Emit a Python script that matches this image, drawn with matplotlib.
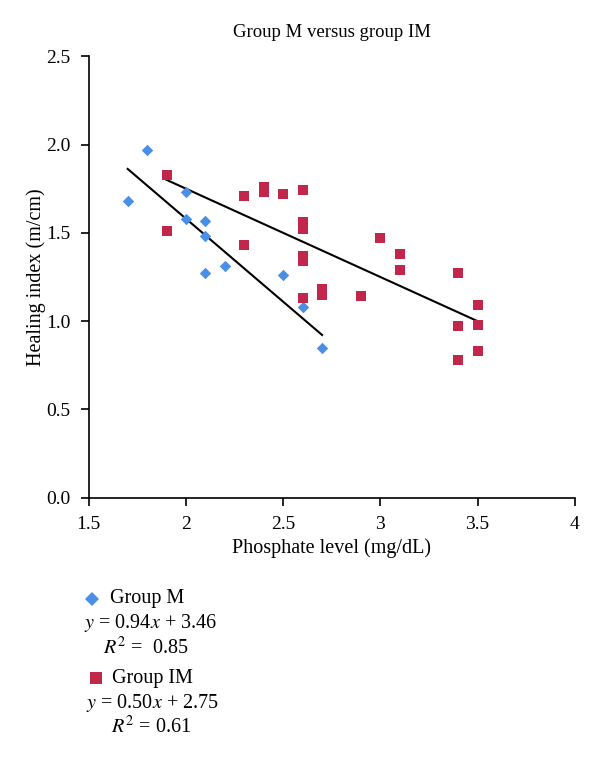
import matplotlib
matplotlib.use("Agg")
import matplotlib.pyplot as plt
import numpy as np

plt.rcParams['font.family'] = ['Liberation Serif', 'DejaVu Serif']
plt.rcParams['mathtext.fontset'] = 'stix'

# Group M (blue diamonds)
m_x = [1.7, 1.8, 2.0, 2.0, 2.1, 2.1, 2.1, 2.2, 2.5, 2.6, 2.7]
m_y = [1.68, 1.97, 1.73, 1.58, 1.57, 1.48, 1.27, 1.31, 1.26, 1.08, 0.85]

# Group IM (red squares)
im_x = [1.9, 1.9, 2.3, 2.3, 2.4, 2.4, 2.5, 2.6, 2.6, 2.6, 2.6, 2.6, 2.6,
        2.7, 2.7, 2.9, 3.0, 3.1, 3.1, 3.4, 3.4, 3.4, 3.5, 3.5, 3.5]
im_y = [1.83, 1.51, 1.71, 1.43, 1.76, 1.73, 1.72, 1.74, 1.56, 1.52, 1.37, 1.34, 1.13,
        1.18, 1.15, 1.14, 1.47, 1.38, 1.29, 1.27, 0.97, 0.78, 1.09, 0.98, 0.83]

# regression lines as printed in the legend: y = slope*x + intercept
m_fit = (-0.94, 3.46)
im_fit = (-0.50, 2.75)

blue = '#4A8FE7'
red = '#C1274A'

fig = plt.figure(figsize=(6, 7.6), dpi=100)
ax = fig.add_axes([0.148, 0.345, 0.81, 0.581])

ax.scatter(m_x, m_y, marker='D', s=34, color=blue, zorder=3, linewidths=0)
ax.scatter(im_x, im_y, marker='s', s=48, color=red, zorder=3, linewidths=0)

for xs, fit in [(m_x, m_fit), (im_x, im_fit)]:
    lx = np.array([min(xs), max(xs)])
    ax.plot(lx, fit[0] * lx + fit[1], color='black', lw=1.5, zorder=2)

ax.set_xlim(1.5, 4)
ax.set_ylim(0, 2.5)
ax.set_xticks([1.5, 2, 2.5, 3, 3.5, 4])
ax.set_xticklabels(['1.5', '2', '2.5', '3', '3.5', '4'])
ax.set_yticks([0, 0.5, 1.0, 1.5, 2.0, 2.5])
ax.set_yticklabels(['0.0', '0.5', '1.0', '1.5', '2.0', '2.5'])
for s in ['top', 'right']:
    ax.spines[s].set_visible(False)
for s in ['left', 'bottom']:
    ax.spines[s].set_linewidth(1.2)
ax.tick_params(direction='out', length=6, width=1.2, labelsize=14, pad=7)

ax.set_title('Group M versus group IM', fontsize=13.5, pad=14)
ax.set_xlabel('Phosphate level (mg/dL)', fontsize=14.5, labelpad=4)
ax.set_ylabel('Healing index (m/cm)', fontsize=14.5, labelpad=0)

# legend block below the chart
def fy(py):
    return 1 - py / 760

def fx(px):
    return px / 600

ax.plot([fx(92)], [fy(599)], marker='D', ms=7, color=blue, mew=0,
        transform=fig.transFigure, clip_on=False)
fig.text(fx(110), fy(599), 'Group M', fontsize=14.5, va='center')
fig.text(fx(151), fy(623), r'$y$ = 0.94$x$ + 3.46', fontsize=14.5, va='center', ha='center')
fig.text(fx(146), fy(648), r'$R^2$ =  0.85', fontsize=14.5, va='center', ha='center')

ax.plot([fx(96)], [fy(678)], marker='s', ms=8, color=red, mew=0,
        transform=fig.transFigure, clip_on=False)
fig.text(fx(112), fy(678), 'Group IM', fontsize=14.5, va='center')
fig.text(fx(152), fy(703), r'$y$ = 0.50$x$ + 2.75', fontsize=14.5, va='center', ha='center')
fig.text(fx(151), fy(727), r'$R^2$ = 0.61', fontsize=14.5, va='center', ha='center')

fig.savefig('out.png', dpi=100)
